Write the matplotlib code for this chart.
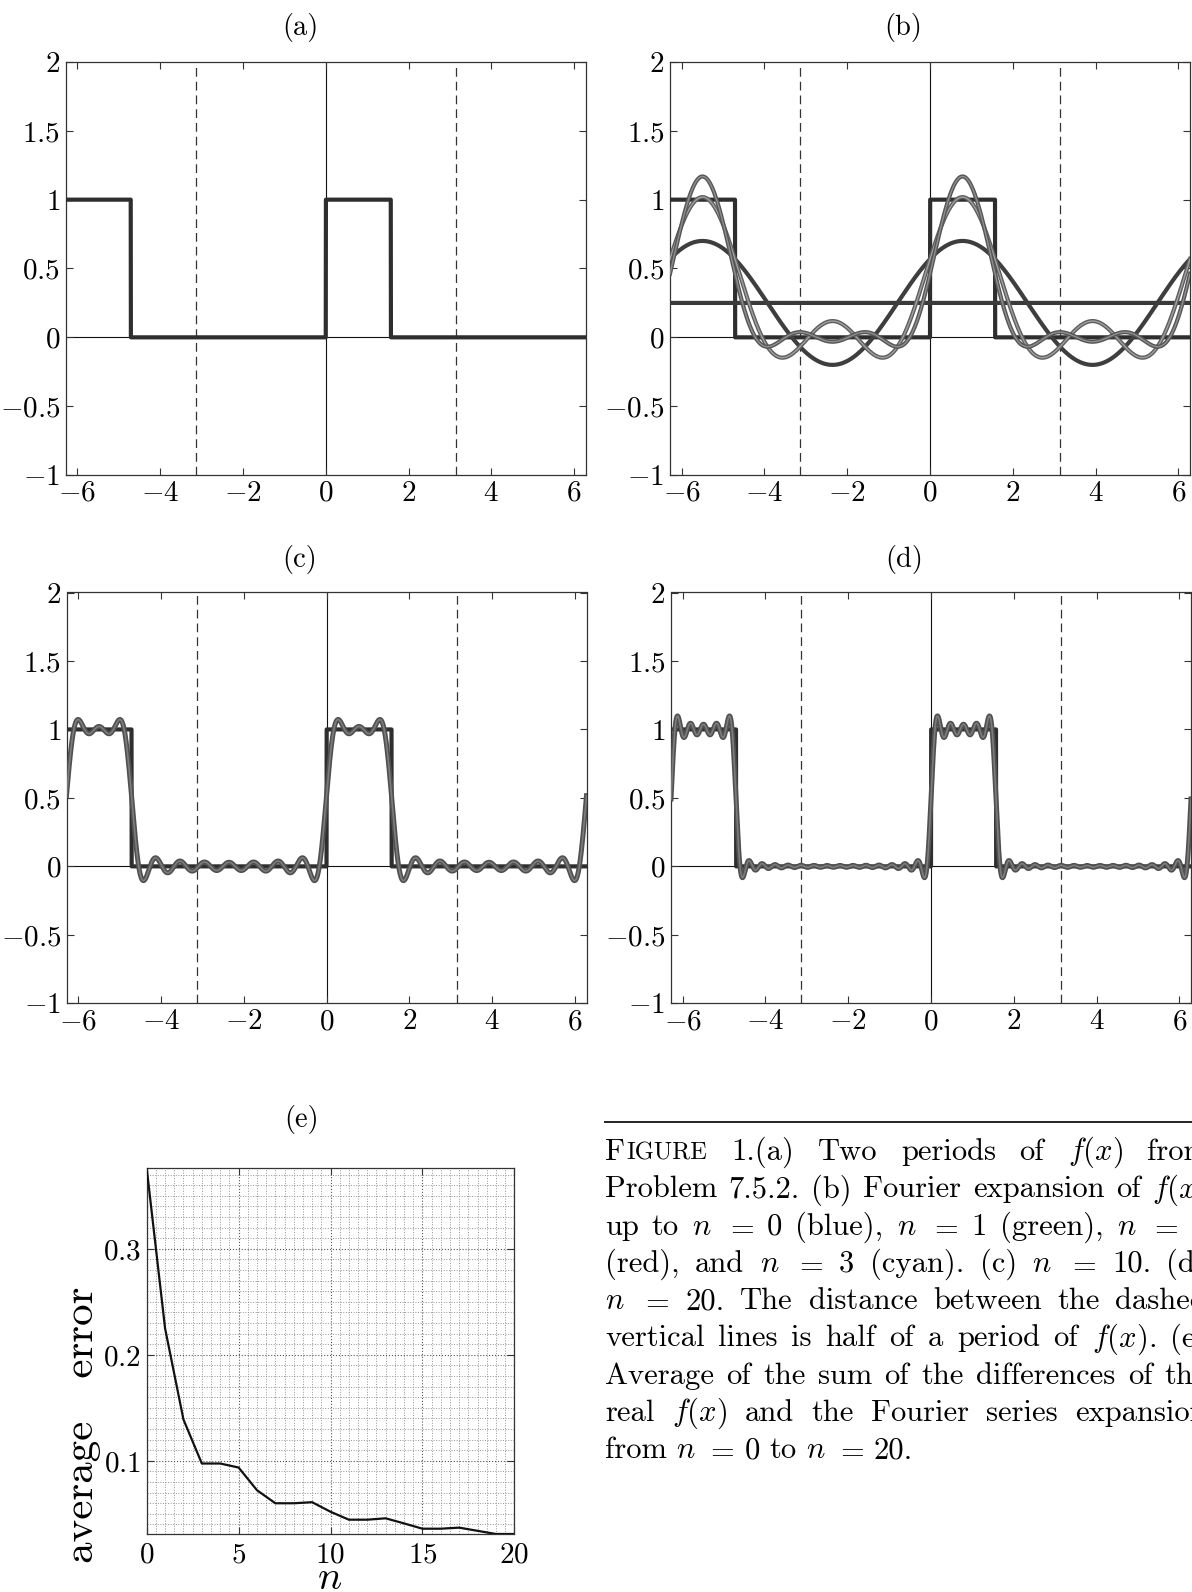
import numpy as np
import matplotlib
matplotlib.use("Agg")
import matplotlib.pyplot as plt
from matplotlib.ticker import MultipleLocator, FixedLocator, FuncFormatter
from matplotlib.lines import Line2D

plt.rcParams["font.family"] = "cmr10"
plt.rcParams["mathtext.fontset"] = "cm"
plt.rcParams["axes.formatter.use_mathtext"] = True

# f(x) = 1 on [0, pi/2), 0 on the rest of the period
period = 2 * np.pi
pulse_width = np.pi / 2
x_span = (-2 * np.pi, 2 * np.pi)
half_period_marks = [-np.pi, np.pi]

orders_b = [0, 1, 2, 3]
order_c = 10
order_d = 20

# average error of the expansion against n
err_n = list(range(21))
err_avg = [0.376, 0.225, 0.139, 0.0975, 0.0975, 0.0937, 0.0723, 0.060, 0.060,
           0.061, 0.052, 0.0445, 0.0445, 0.0458, 0.041, 0.036, 0.036, 0.037,
           0.034, 0.031, 0.031]

x_ticks = [-6, -4, -2, 0, 2, 4, 6]
y_ticks = [-1, -0.5, 0, 0.5, 1, 1.5, 2]
e_xticks = [0, 5, 10, 15, 20]
e_yticks = [0.1, 0.2, 0.3]

caption_lines = [
    "FIGURE 1.(a) Two periods of $f(x)$ from",
    "Problem 7.5.2. (b) Fourier expansion of $f(x)$",
    "up to $n$ $=$ 0 (blue), $n$ $=$ 1 (green), $n$ $=$ 2",
    "(red), and $n$ $=$ 3 (cyan). (c) $n$ $=$ 10. (d)",
    "$n$ $=$ 20. The distance between the dashed",
    "vertical lines is half of a period of $f(x)$. (e)",
    "Average of the sum of the differences of the",
    "real $f(x)$ and the Fourier series expansion",
    "from $n$ $=$ 0 to $n$ $=$ 20.",
]

W_PX, H_PX = 1192, 1592


def frac_box(left, top, right, bottom):
    return [left / W_PX, 1 - bottom / H_PX, (right - left) / W_PX, (bottom - top) / H_PX]


def fx(x):
    return ((x - x_span[0]) % period < pulse_width).astype(float)


def partial_sum(x, n):
    s = np.full_like(x, pulse_width / period)
    for k in range(1, n + 1):
        a = np.sin(k * pulse_width) / (k * np.pi)
        b = (1 - np.cos(k * pulse_width)) / (k * np.pi)
        s = s + a * np.cos(k * x) + b * np.sin(k * x)
    return s


def num_label(v, pos):
    return "$%g$" % v


def style(ax):
    ax.tick_params(direction="in", which="major", top=True, right=True,
                   length=5, width=0.8, labelsize=21, pad=4, color="#333")
    ax.tick_params(which="minor", length=0)
    for s in ax.spines.values():
        s.set_linewidth(0.9)
        s.set_color("#333")


def base_panel(ax):
    ax.set_xlim(*x_span)
    ax.set_ylim(-1, 2)
    ax.xaxis.set_major_locator(FixedLocator(x_ticks))
    ax.yaxis.set_major_locator(FixedLocator(y_ticks))
    ax.xaxis.set_major_formatter(FuncFormatter(num_label))
    ax.yaxis.set_major_formatter(FuncFormatter(num_label))
    ax.axhline(0, color="#111", lw=0.8, zorder=1)
    ax.axvline(0, color="#111", lw=0.8, zorder=1)
    for m in half_period_marks:
        ax.axvline(m, color="#333", lw=0.9, ls=(0, (7, 4)), zorder=1)
    style(ax)


fig = plt.figure(figsize=(W_PX / 100, H_PX / 100), dpi=100)
xs = np.linspace(x_span[0], x_span[1] - 1e-9, 6001)
square = fx(xs)

ax_a = fig.add_axes(frac_box(65.7, 62, 585.8, 475))
ax_b = fig.add_axes(frac_box(670, 62, 1190, 475))
ax_c = fig.add_axes(frac_box(66.5, 592.5, 586.5, 1003.3))
ax_d = fig.add_axes(frac_box(671, 592.5, 1191, 1003.3))
ax_e = fig.add_axes(frac_box(146.7, 1168.3, 514.3, 1534))

for ax in (ax_a, ax_b, ax_c, ax_d):
    base_panel(ax)
    ax.plot(xs, square, color="#2e2e2e", lw=3.0, zorder=3)

# (b): low orders, grey tones of the printed colours
b_styles = {0: ("#3a3a3a", None), 1: ("#3e3e3e", None),
            2: ("#5e5e5e", "#a0a0a0"), 3: ("#565656", "#8e8e8e")}
for n in orders_b:
    col, core = b_styles[n]
    ax_b.plot(xs, partial_sum(xs, n), color=col, lw=3.0, zorder=4 + n)
    if core:
        ax_b.plot(xs, partial_sum(xs, n), color=core, lw=1.0, zorder=4 + n)

for ax, n in ((ax_c, order_c), (ax_d, order_d)):
    ys = partial_sum(xs, n)
    ax.plot(xs, ys, color="#505050", lw=3.6, zorder=4)
    ax.plot(xs, ys, color="#7c7c7c", lw=1.2, zorder=5)

# (e): error curve on a dense dotted grid
ax_e.plot(err_n, err_avg, color="#111", lw=1.6, zorder=3)
ax_e.set_xlim(0, 20)
ax_e.set_ylim(min(err_avg), max(err_avg))
ax_e.xaxis.set_major_locator(FixedLocator(e_xticks))
ax_e.yaxis.set_major_locator(FixedLocator(e_yticks))
ax_e.xaxis.set_minor_locator(MultipleLocator(0.5))
ax_e.yaxis.set_minor_locator(MultipleLocator(0.01))
ax_e.xaxis.set_major_formatter(FuncFormatter(num_label))
ax_e.yaxis.set_major_formatter(FuncFormatter(num_label))
ax_e.grid(True, which="major", ls=":", color="#555", lw=0.8)
ax_e.grid(True, which="minor", ls=":", color="#949494", lw=0.7)
ax_e.set_axisbelow(True)
style(ax_e)
ax_e.tick_params(axis="x", pad=6)

for label, (cx, cy) in {"(a)": (300, 27), "(b)": (903, 27), "(c)": (300, 560),
                         "(d)": (904, 560), "(e)": (302, 1120)}.items():
    fig.text(cx / W_PX, 1 - cy / H_PX, label, fontsize=20.5, ha="center", va="center")

fig.text(82 / W_PX, 1 - 1425 / H_PX, "average   error", fontsize=31,
         rotation=90, ha="center", va="center")
fig.text(330 / W_PX, 1 - 1589 / H_PX, "$n$", fontsize=29, ha="center", va="baseline")

# caption: justified lines, running off the right edge
cap_x0, cap_width = 605, 602
cap_base0, cap_step = 1160, 37.3
cap_size = 22
fig.add_artist(Line2D([cap_x0 / W_PX, 1.0], [1 - 1121.7 / H_PX] * 2,
                      transform=fig.transFigure, lw=1.4, color="#222"))
renderer = fig.canvas.get_renderer()
for i, line in enumerate(caption_lines):
    yb = 1 - (cap_base0 + i * cap_step) / H_PX
    words = []
    for w in line.split(" "):
        if w == "FIGURE":
            parts = [fig.text(0, yb, "F", fontsize=cap_size, va="baseline"),
                     fig.text(0, yb, "IGURE", fontsize=cap_size * 0.8, va="baseline")]
        else:
            parts = [fig.text(0, yb, w, fontsize=cap_size, va="baseline")]
        words.append(parts)
    widths = [[p.get_window_extent(renderer).width for p in parts] for parts in words]
    total = sum(sum(ws) for ws in widths)
    if i < len(caption_lines) - 1:
        gap = (cap_width - total) / (len(words) - 1)
    else:
        gap = 9.5
    xpos = cap_x0
    for parts, ws in zip(words, widths):
        for p, wdt in zip(parts, ws):
            p.set_x(xpos / W_PX)
            xpos += wdt + (1.5 if p.get_text() == "F" else 0)
        xpos += gap

fig.savefig("out.png", dpi=100)
